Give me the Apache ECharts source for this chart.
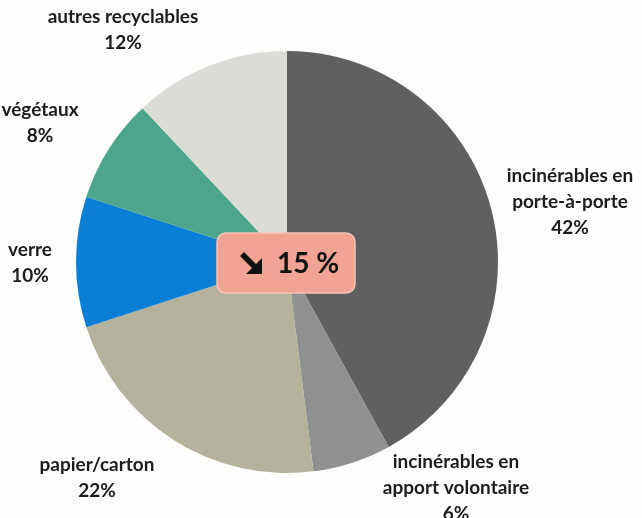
<!DOCTYPE html>
<html><head><meta charset="utf-8">
<script src="https://cdn.jsdelivr.net/npm/echarts@6/dist/echarts.min.js"></script>
<style>html,body{margin:0;padding:0;background:#fdfdfc}#c{width:642px;height:518px}</style>
</head><body><div id="c"></div>
<script>
var categories = ['incinérables en\nporte-à-porte', 'incinérables en\napport volontaire', 'papier/carton', 'verre', 'végétaux', 'autres recyclables'];
var values = [42, 6, 22, 10, 8, 12];
var colors = ['#5f605f', '#8e918f', '#b5b29b', '#0b7fd6', '#4da58b', '#dcdcd7'];
var centerText = '15 %';
// label anchor positions (label layout only)
var labelPos = [[570, 202], [456, 488], [97, 478], [30, 263], [40, 123], [123, 30]];

var chart = echarts.init(document.getElementById('c'));
chart.setOption({
  backgroundColor: '#fdfdfc',
  animation: false,
  series: [{
    type: 'pie',
    center: [287, 262],
    radius: 211,
    startAngle: 90,
    clockwise: true,
    avoidLabelOverlap: false,
    data: categories.map(function (c, i) {
      return { name: c, value: values[i], itemStyle: { color: colors[i] } };
    }),
    label: {
      show: true,
      formatter: function (p) { return p.name + '\n' + p.value + '%'; },
      fontFamily: 'Lato',
      fontWeight: 'bold',
      fontSize: 19,
      lineHeight: 26,
      color: '#1c1c1c',
      align: 'center',
      overflow: 'none'
    },
    labelLine: { show: false },
    labelLayout: function (p) {
      var pos = labelPos[p.dataIndex];
      return { x: pos[0], y: pos[1], align: 'center', verticalAlign: 'middle' };
    },
    emphasis: { disabled: true }
  }],
  graphic: {
    elements: [{
      type: 'rect',
      z: 100,
      shape: { x: 217, y: 233, width: 138, height: 60, r: 9 },
      style: { fill: '#f1a394', stroke: '#f6c4b8', lineWidth: 1.5 }
    }, {
      type: 'polygon',
      z: 101,
      x: 240, y: 252,
      shape: { points: [[4, 0], [16, 12], [22, 6], [22, 22], [6, 22], [12, 16], [0, 4]] },
      style: { fill: '#111' }
    }, {
      type: 'text',
      z: 101,
      x: 277, y: 264,
      style: { text: centerText, font: 'bold 28px Lato', fill: '#111', align: 'left', verticalAlign: 'middle' }
    }]
  }
});
</script></body></html>
